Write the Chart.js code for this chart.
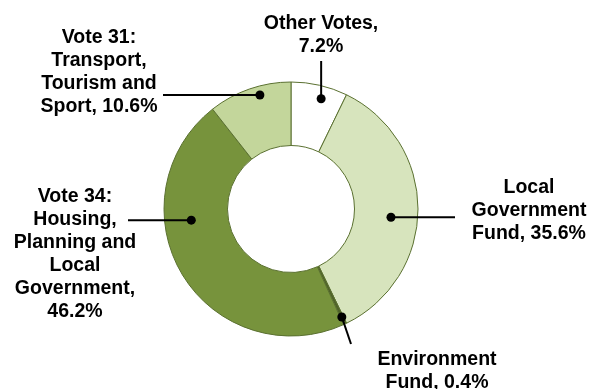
<!DOCTYPE html>
<html>
<head>
<meta charset="utf-8">
<script src="https://cdn.jsdelivr.net/npm/chart.js@4/dist/chart.umd.min.js"></script>
<style>
html,body{margin:0;padding:0;background:#fff;}
#wrap{width:590px;height:389px;position:relative;}
</style>
</head>
<body>
<div id="wrap"><canvas id="c" width="590" height="389"></canvas></div>
<script>
const categories = ['Other Votes', 'Local Government Fund', 'Environment Fund', 'Vote 34: Housing, Planning and Local Government', 'Vote 31: Transport, Tourism and Sport'];
const values = [7.2, 35.6, 0.4, 46.2, 10.6];
const labelLines = [
  ['Other Votes,', '7.2%'],
  ['Local', 'Government', 'Fund, 35.6%'],
  ['Environment', 'Fund, 0.4%'],
  ['Vote 34:', 'Housing,', 'Planning and', 'Local', 'Government,', '46.2%'],
  ['Vote 31:', 'Transport,', 'Tourism and', 'Sport, 10.6%']
];
const colors = ['#FFFFFF', '#D7E4BD', '#4F6228', '#77933C', '#C3D69B'];

// annotation layout (not data)
const callouts = [
  {frac:0.59, rad:0.90, mode:'v', end:[321,61],  tx:321, ty:24},
  {frac:0.537,rad:0.79, mode:'h', end:[455,217], tx:529, ty:188},
  {frac:0.5,  rad:0.94, mode:'f', end:[351,344], tx:437, ty:360},
  {frac:0.65, rad:0.79, mode:'h', end:[128,219], tx:75,  ty:197},
  {frac:0.6,  rad:0.93, mode:'h', end:[163,95],  tx:99,  ty:38}
];

const calloutPlugin = {
  id: 'callouts',
  afterDatasetsDraw(chart) {
    const ctx = chart.ctx;
    const meta = chart.getDatasetMeta(0);
    ctx.save();
    meta.data.forEach((arc, i) => {
      const p = arc.getProps(['x','y','startAngle','endAngle','outerRadius'], true);
      const c = callouts[i];
      const a = p.startAngle + c.frac * (p.endAngle - p.startAngle);
      const dx = p.x + Math.cos(a) * p.outerRadius * c.rad;
      const dy = p.y + Math.sin(a) * p.outerRadius * c.rad;
      let ex = c.end[0], ey = c.end[1];
      if (c.mode === 'h') ey = dy;
      if (c.mode === 'v') ex = dx;
      ctx.strokeStyle = '#000';
      ctx.lineWidth = 2;
      ctx.beginPath();
      ctx.moveTo(dx, dy);
      ctx.lineTo(ex, ey);
      ctx.stroke();
      ctx.fillStyle = '#000';
      ctx.beginPath();
      ctx.arc(dx, dy, 4.5, 0, Math.PI*2);
      ctx.fill();
      ctx.font = 'bold 19.5px "Liberation Sans", Arial, sans-serif';
      ctx.textAlign = 'center';
      ctx.textBaseline = 'middle';
      labelLines[i].forEach((t, j) => {
        ctx.fillText(t, c.tx, c.ty + j*23);
      });
    });
    ctx.restore();
  }
};

new Chart(document.getElementById('c'), {
  type: 'doughnut',
  data: {
    labels: categories,
    datasets: [{
      data: values,
      backgroundColor: colors,
      borderColor: '#5A7030',
      borderWidth: 1,
      hoverOffset: 0,
      offset: 0
    }]
  },
  options: {
    responsive: false,
    animation: false,
    radius: 127,
    cutout: '50%',
    rotation: 0,
    layout: {padding: {left: 141, right: 149, top: 59, bottom: 30}},
    plugins: {legend: {display: false}, tooltip: {enabled: false}}
  },
  plugins: [calloutPlugin]
});
</script>
</body>
</html>
